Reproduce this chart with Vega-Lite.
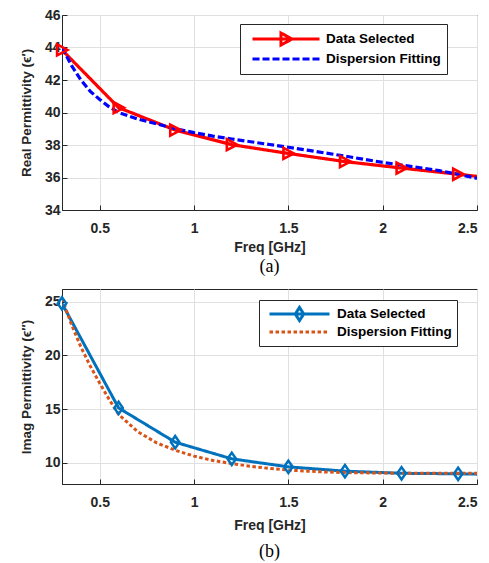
{
  "$schema": "https://vega.github.io/schema/vega-lite/v6.json",
  "padding": {"left": 18, "top": 7, "right": 5, "bottom": 2},
  "background": "white",
  "datasets": {
    "real": [
      {"freq": 0.3, "value": 43.85, "series": "Data Selected"},
      {"freq": 0.6, "value": 40.3, "series": "Data Selected"},
      {"freq": 0.9, "value": 38.92, "series": "Data Selected"},
      {"freq": 1.2, "value": 38.02, "series": "Data Selected"},
      {"freq": 1.5, "value": 37.48, "series": "Data Selected"},
      {"freq": 1.8, "value": 36.98, "series": "Data Selected"},
      {"freq": 2.1, "value": 36.58, "series": "Data Selected"},
      {"freq": 2.4, "value": 36.2, "series": "Data Selected"},
      {"freq": 2.5, "value": 36.07, "series": "Data Selected"},
      {"freq": 0.3, "value": 44.0, "series": "Dispersion Fitting"},
      {"freq": 0.35, "value": 42.9, "series": "Dispersion Fitting"},
      {"freq": 0.4, "value": 42.0, "series": "Dispersion Fitting"},
      {"freq": 0.45, "value": 41.3, "series": "Dispersion Fitting"},
      {"freq": 0.5, "value": 40.8, "series": "Dispersion Fitting"},
      {"freq": 0.55, "value": 40.35, "series": "Dispersion Fitting"},
      {"freq": 0.6, "value": 40.0, "series": "Dispersion Fitting"},
      {"freq": 0.7, "value": 39.6, "series": "Dispersion Fitting"},
      {"freq": 0.8, "value": 39.3, "series": "Dispersion Fitting"},
      {"freq": 0.9, "value": 39.0, "series": "Dispersion Fitting"},
      {"freq": 1.0, "value": 38.76, "series": "Dispersion Fitting"},
      {"freq": 1.1, "value": 38.55, "series": "Dispersion Fitting"},
      {"freq": 1.2, "value": 38.37, "series": "Dispersion Fitting"},
      {"freq": 1.3, "value": 38.2, "series": "Dispersion Fitting"},
      {"freq": 1.4, "value": 38.03, "series": "Dispersion Fitting"},
      {"freq": 1.5, "value": 37.86, "series": "Dispersion Fitting"},
      {"freq": 1.6, "value": 37.68, "series": "Dispersion Fitting"},
      {"freq": 1.7, "value": 37.5, "series": "Dispersion Fitting"},
      {"freq": 1.8, "value": 37.32, "series": "Dispersion Fitting"},
      {"freq": 1.9, "value": 37.12, "series": "Dispersion Fitting"},
      {"freq": 2.0, "value": 36.93, "series": "Dispersion Fitting"},
      {"freq": 2.1, "value": 36.77, "series": "Dispersion Fitting"},
      {"freq": 2.2, "value": 36.6, "series": "Dispersion Fitting"},
      {"freq": 2.3, "value": 36.42, "series": "Dispersion Fitting"},
      {"freq": 2.4, "value": 36.2, "series": "Dispersion Fitting"},
      {"freq": 2.5, "value": 35.95, "series": "Dispersion Fitting"}
    ],
    "imag": [
      {"freq": 0.3, "value": 24.85, "series": "Data Selected"},
      {"freq": 0.6, "value": 15.1, "series": "Data Selected"},
      {"freq": 0.9, "value": 11.9, "series": "Data Selected"},
      {"freq": 1.2, "value": 10.35, "series": "Data Selected"},
      {"freq": 1.5, "value": 9.6, "series": "Data Selected"},
      {"freq": 1.8, "value": 9.2, "series": "Data Selected"},
      {"freq": 2.1, "value": 9.0, "series": "Data Selected"},
      {"freq": 2.4, "value": 8.95, "series": "Data Selected"},
      {"freq": 2.5, "value": 8.92, "series": "Data Selected"},
      {"freq": 0.3, "value": 25.3, "series": "Dispersion Fitting"},
      {"freq": 0.35, "value": 22.9, "series": "Dispersion Fitting"},
      {"freq": 0.4, "value": 20.8, "series": "Dispersion Fitting"},
      {"freq": 0.45, "value": 19.0, "series": "Dispersion Fitting"},
      {"freq": 0.5, "value": 17.4, "series": "Dispersion Fitting"},
      {"freq": 0.55, "value": 15.9, "series": "Dispersion Fitting"},
      {"freq": 0.6, "value": 14.5, "series": "Dispersion Fitting"},
      {"freq": 0.7, "value": 12.9, "series": "Dispersion Fitting"},
      {"freq": 0.8, "value": 11.85, "series": "Dispersion Fitting"},
      {"freq": 0.9, "value": 11.15, "series": "Dispersion Fitting"},
      {"freq": 1.0, "value": 10.6, "series": "Dispersion Fitting"},
      {"freq": 1.1, "value": 10.2, "series": "Dispersion Fitting"},
      {"freq": 1.2, "value": 9.9, "series": "Dispersion Fitting"},
      {"freq": 1.3, "value": 9.65, "series": "Dispersion Fitting"},
      {"freq": 1.4, "value": 9.45, "series": "Dispersion Fitting"},
      {"freq": 1.5, "value": 9.3, "series": "Dispersion Fitting"},
      {"freq": 1.6, "value": 9.2, "series": "Dispersion Fitting"},
      {"freq": 1.7, "value": 9.12, "series": "Dispersion Fitting"},
      {"freq": 1.8, "value": 9.07, "series": "Dispersion Fitting"},
      {"freq": 2.0, "value": 9.02, "series": "Dispersion Fitting"},
      {"freq": 2.2, "value": 9.0, "series": "Dispersion Fitting"},
      {"freq": 2.5, "value": 9.0, "series": "Dispersion Fitting"}
    ]
  },
  "resolve": {"scale": {"color": "independent", "strokeDash": "independent"}, "legend": {"color": "independent"}},
  "vconcat": [
    {
      "width": 415,
      "height": 195,
      "title": {"text": "(a)", "orient": "bottom", "font": "Liberation Serif", "fontSize": 18, "fontWeight": "normal", "color": "#000000", "offset": 4},
      "layer": [
        {
          "data": {"name": "real"},
          "mark": {"type": "line", "strokeWidth": 3.2, "clip": true},
          "encoding": {
            "x": {"field": "freq", "type": "quantitative", "scale": {"domain": [0.3, 2.5], "nice": false, "zero": false}, "axis": {"title": "Freq [GHz]", "values": [0.5, 1, 1.5, 2, 2.5], "format": "~g"}},
            "y": {"field": "value", "type": "quantitative", "scale": {"domain": [34, 46], "nice": false, "zero": false}, "axis": {"title": "Real Permittivity (ϵ′)", "values": [34, 36, 38, 40, 42, 44, 46], "tickCount": 7, "labelOverlap": false}},
            "color": {
              "field": "series", "type": "nominal",
              "scale": {"domain": ["Data Selected", "Dispersion Fitting"], "range": ["#FF0000", "#0000FF"]},
              "legend": {
                "orient": "none", "legendX": 178, "legendY": 9, "title": null,
                "strokeColor": "#262626", "fillColor": "white", "padding": 6,
                "symbolOffset": 5, "symbolSize": 4489, "clipHeight": 18, "rowPadding": 2,
                "symbolStrokeWidth": 3, "labelFont": "Liberation Sans", "labelFontSize": 13.5,
                "labelFontWeight": "bold", "labelColor": "#000000", "labelOffset": 5,
                "encode": {"symbols": {"update": {
                  "shape": {"signal": "datum.value === 'Data Selected' ? 'M-1,0H1M-0.15,-0.18L0.18,0L-0.15,0.18Z' : 'M-1,0H1'"},
                  "strokeDash": {"signal": "datum.value === 'Data Selected' ? [1,0] : [7,3]"},
                  "fill": {"value": "transparent"}
                }}}
              }
            },
            "strokeDash": {"field": "series", "type": "nominal", "scale": {"domain": ["Data Selected", "Dispersion Fitting"], "range": [[1, 0], [7, 3]]}, "legend": null}
          }
        },
        {
          "data": {"name": "real"},
          "transform": [{"filter": "datum.series === 'Data Selected' && datum.freq <= 2.41"}],
          "mark": {"type": "point", "shape": "M-0.9,-1L1,0L-0.9,1Z", "size": 120, "filled": false, "strokeWidth": 2.6, "color": "#FF0000", "opacity": 1, "clip": false},
          "encoding": {
            "x": {"field": "freq", "type": "quantitative", "axis": {"title": "Freq [GHz]", "values": [0.5, 1, 1.5, 2, 2.5], "format": "~g"}},
            "y": {"field": "value", "type": "quantitative", "axis": {"title": "Real Permittivity (ϵ′)", "values": [34, 36, 38, 40, 42, 44, 46], "tickCount": 7, "labelOverlap": false}}
          }
        }
      ]
    },
    {
      "width": 415,
      "height": 195,
      "title": {"text": "(b)", "orient": "bottom", "font": "Liberation Serif", "fontSize": 18, "fontWeight": "normal", "color": "#000000", "offset": 11},
      "layer": [
        {
          "data": {"name": "imag"},
          "mark": {"type": "line", "strokeWidth": 3, "clip": true},
          "encoding": {
            "x": {"field": "freq", "type": "quantitative", "scale": {"domain": [0.3, 2.5], "nice": false, "zero": false}, "axis": {"title": "Freq [GHz]", "values": [0.5, 1, 1.5, 2, 2.5], "titlePadding": 9, "format": "~g"}},
            "y": {"field": "value", "type": "quantitative", "scale": {"domain": [8, 26.2], "nice": false, "zero": false}, "axis": {"title": "Imag Permittivity  (ϵ″)", "values": [10, 15, 20, 25]}},
            "color": {
              "field": "series", "type": "nominal",
              "scale": {"domain": ["Data Selected", "Dispersion Fitting"], "range": ["#0072BD", "#D95319"]},
              "legend": {
                "orient": "none", "legendX": 197, "legendY": 11, "title": null,
                "strokeColor": "#262626", "fillColor": "white", "padding": 5,
                "symbolOffset": 4, "symbolSize": 3600, "clipHeight": 18, "rowPadding": 0,
                "symbolStrokeWidth": 3, "labelFont": "Liberation Sans", "labelFontSize": 13.5,
                "labelFontWeight": "bold", "labelColor": "#000000", "labelOffset": 6,
                "encode": {"symbols": {"update": {
                  "shape": {"signal": "datum.value === 'Data Selected' ? 'M-1,0H1M0,-0.22L0.14,0L0,0.22L-0.14,0Z' : 'M-1,0H1'"},
                  "strokeDash": {"signal": "datum.value === 'Data Selected' ? [1,0] : [3.5,2.5]"},
                  "fill": {"value": "transparent"}
                }}}
              }
            },
            "strokeDash": {"field": "series", "type": "nominal", "scale": {"domain": ["Data Selected", "Dispersion Fitting"], "range": [[1, 0], [3.5, 2.5]]}, "legend": null}
          }
        },
        {
          "data": {"name": "imag"},
          "transform": [{"filter": "datum.series === 'Data Selected' && datum.freq <= 2.41"}],
          "mark": {"type": "point", "shape": "M0,-1.3L0.9,0L0,1.3L-0.9,0Z", "size": 90, "filled": false, "strokeWidth": 2.5, "color": "#0072BD", "opacity": 1},
          "encoding": {
            "x": {"field": "freq", "type": "quantitative", "axis": {"title": "Freq [GHz]", "values": [0.5, 1, 1.5, 2, 2.5], "titlePadding": 9, "format": "~g"}},
            "y": {"field": "value", "type": "quantitative", "axis": {"title": "Imag Permittivity  (ϵ″)", "values": [10, 15, 20, 25]}}
          }
        }
      ]
    }
  ],
  "spacing": 79,
  "bounds": "flush",
  "config": {
    "font": "Liberation Sans",
    "view": {"stroke": "#262626", "strokeWidth": 1},
    "axis": {
      "labelFont": "Liberation Sans", "labelFontSize": 14, "labelFontWeight": "bold", "labelColor": "#262626",
      "titleFont": "Liberation Sans", "titleFontSize": 14, "titleFontWeight": "bold", "titleColor": "#262626",
      "grid": true, "gridColor": "#e0e0e0", "gridWidth": 1, "labelOverlap": false,
      "domainColor": "#262626", "tickColor": "#262626", "tickSize": -5, "labelPadding": 10
    },
    "axisY": {"titleFontSize": 13.5, "titlePadding": 11, "labelPadding": 7},
    "axisX": {"titlePadding": 5, "labelPadding": 16}
  }
}
